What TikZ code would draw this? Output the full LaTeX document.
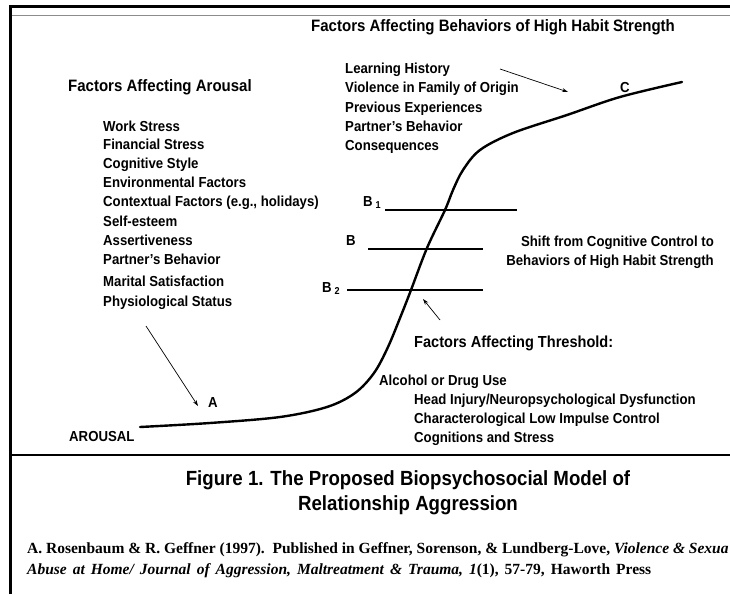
\documentclass[tikz,border=0pt]{standalone}
\usepackage{fontspec}
\setmainfont{Liberation Sans}[BoldFeatures={FakeStretch=0.91}]
\newfontfamily\citefont{Liberation Serif}
\usetikzlibrary{arrows.meta}
\definecolor{frameGray}{gray}{0.55}
\newcommand*{\lstsize}{\bfseries\fontsize{14.5}{17}\selectfont}
\newcommand*{\hdgsize}{\bfseries\fontsize{16.5}{19}\selectfont}
\newcommand*{\capsize}{\bfseries\fontsize{20.5}{24}\selectfont}
\newcommand*{\citesize}{\citefont\bfseries\fontsize{15.5}{18}\selectfont}
\newcommand*{\lvl}[1]{B\kern3pt\raisebox{-2pt}{\fontsize{10}{12}\selectfont #1}}

\begin{document}
\begin{tikzpicture}[x=1pt,y=-1pt,
		item/.style={anchor=base west, inner sep=0pt, font=\lstsize},
		heading/.style={anchor=base west, inner sep=0pt, font=\hdgsize},
		pointer/.style={-{Stealth[length=6pt,width=4pt]}, line width=0.7pt},
		level/.style={line width=1.3pt},
	]
		\useasboundingbox (0,0) rectangle (730,594);
		\clip (0,0) rectangle (730,594);
		%
		\draw[line width=3pt, line join=miter] (10,594) -- (10,6.5) -- (730,6.5);
		\draw[frameGray, line width=1pt] (11.5,16) -- (730,16);
		\draw[line width=2.5pt] (11.5,455) -- (730,455);
		%
		\node[heading] (habitHead) at (311,32) {Factors Affecting Behaviors of High Habit Strength};
		\node[heading] (arousalHead) at (68,91) {Factors Affecting Arousal};
		%
		\node[item] (workStress) at (103,131) {Work Stress};
		\node[item] (finStress) at (103,149) {Financial Stress};
		\node[item] (cogStyle) at (103,168) {Cognitive Style};
		\node[item] (envFactors) at (103,187) {Environmental Factors};
		\node[item] (ctxFactors) at (103,206) {Contextual Factors (e.g., holidays)};
		\node[item] (selfEsteem) at (103,226) {Self-esteem};
		\node[item] (assertive) at (103,245) {Assertiveness};
		\node[item] (partnerA) at (103,264) {Partner's Behavior};
		\node[item] (marital) at (103,286) {Marital Satisfaction};
		\node[item] (physio) at (103,306) {Physiological Status};
		%
		\node[item] (learning) at (345,73) {Learning History};
		\node[item] (violence) at (345,92) {Violence in Family of Origin};
		\node[item] (previous) at (345,112) {Previous Experiences};
		\node[item] (partnerC) at (345,131) {Partner's Behavior};
		\node[item] (conseq) at (345,150) {Consequences};
		%
		\node[item] (arousal) at (69,441) {AROUSAL};
		\node[item] (labelA) at (208,407) {A};
		\node[item] (labelC) at (620,92) {C};
		%
		\node[item] (labelBone) at (363,206) {\lvl{1}};
		\node[item] (labelB) at (346,245) {B};
		\node[item] (labelBtwo) at (322,292) {\lvl{2}};
		%
		\node[item, anchor=base east] (shiftA) at (714,246) {Shift from Cognitive Control to};
		\node[item, anchor=base east] (shiftB) at (714,265) {Behaviors of High Habit Strength};
		%
		\node[heading, font=\bfseries\fontsize{16}{19}\selectfont] (threshHead) at (414,347) {Factors Affecting Threshold:};
		\node[item] (alcohol) at (379,385) {Alcohol or Drug Use};
		\node[item] (headInj) at (414,404) {Head Injury/Neuropsychological Dysfunction};
		\node[item] (lowImp) at (414,423) {Characterological Low Impulse Control};
		\node[item] (cogStress) at (414,442) {Cognitions and Stress};
		%
		\coordinate (bOneL) at (385,210);
		\coordinate (bOneR) at (517,210);
		\coordinate (bL) at (368,249);
		\coordinate (bR) at (483,249);
		\coordinate (bTwoL) at (347,290);
		\coordinate (bTwoR) at (483,290);
		\draw[level] (bOneL) -- (bOneR);
		\draw[level] (bL) -- (bR);
		\draw[level] (bTwoL) -- (bTwoR);
		%
		\draw[line width=2.4pt, line cap=round] plot[smooth, tension=0.55] coordinates {
			(140,427) (210,423) (280,417) (327,407) (355,393) (374,373) (388,347)
			(402,313) (411,290) (427,248) (445,210) (453,190) (463,170) (480,150)
			(513,133) (567,115) (620,97) (682,82)};
		%
		\coordinate (tailA) at (146,326);
		\coordinate (tipA) at (198,406);
		\draw[pointer] (tailA) -- (tipA);
		\coordinate (tailC) at (500,69);
		\coordinate (tipC) at (568,92);
		\draw[pointer] (tailC) -- (tipC);
		\coordinate (tailT) at (440,320);
		\coordinate (tipT) at (423,299);
		\draw[pointer] (tailT) -- (tipT);
		%
		\node[anchor=base, font=\capsize] (capA) at (408,485) {Figure 1. The Proposed Biopsychosocial Model of};
		\node[anchor=base, font=\capsize] (capB) at (408,510) {Relationship Aggression};
		%
		\node[anchor=base west, inner sep=0pt, font=\citesize] (citeA) at (27,553)
			{A. Rosenbaum \& R. Geffner (1997).\ \ Published in Geffner, Sorenson, \& Lundberg-Love, \textit{Violence \& Sexua}};
		\node[anchor=base west, inner sep=0pt, font=\citesize] (citeB) at (27,574)
			{\spaceskip=6pt\textit{Abuse at Home/ Journal of Aggression, Maltreatment \& Trauma, 1}(1), 57-79, Haworth Press};
	\end{tikzpicture}
\end{document}
